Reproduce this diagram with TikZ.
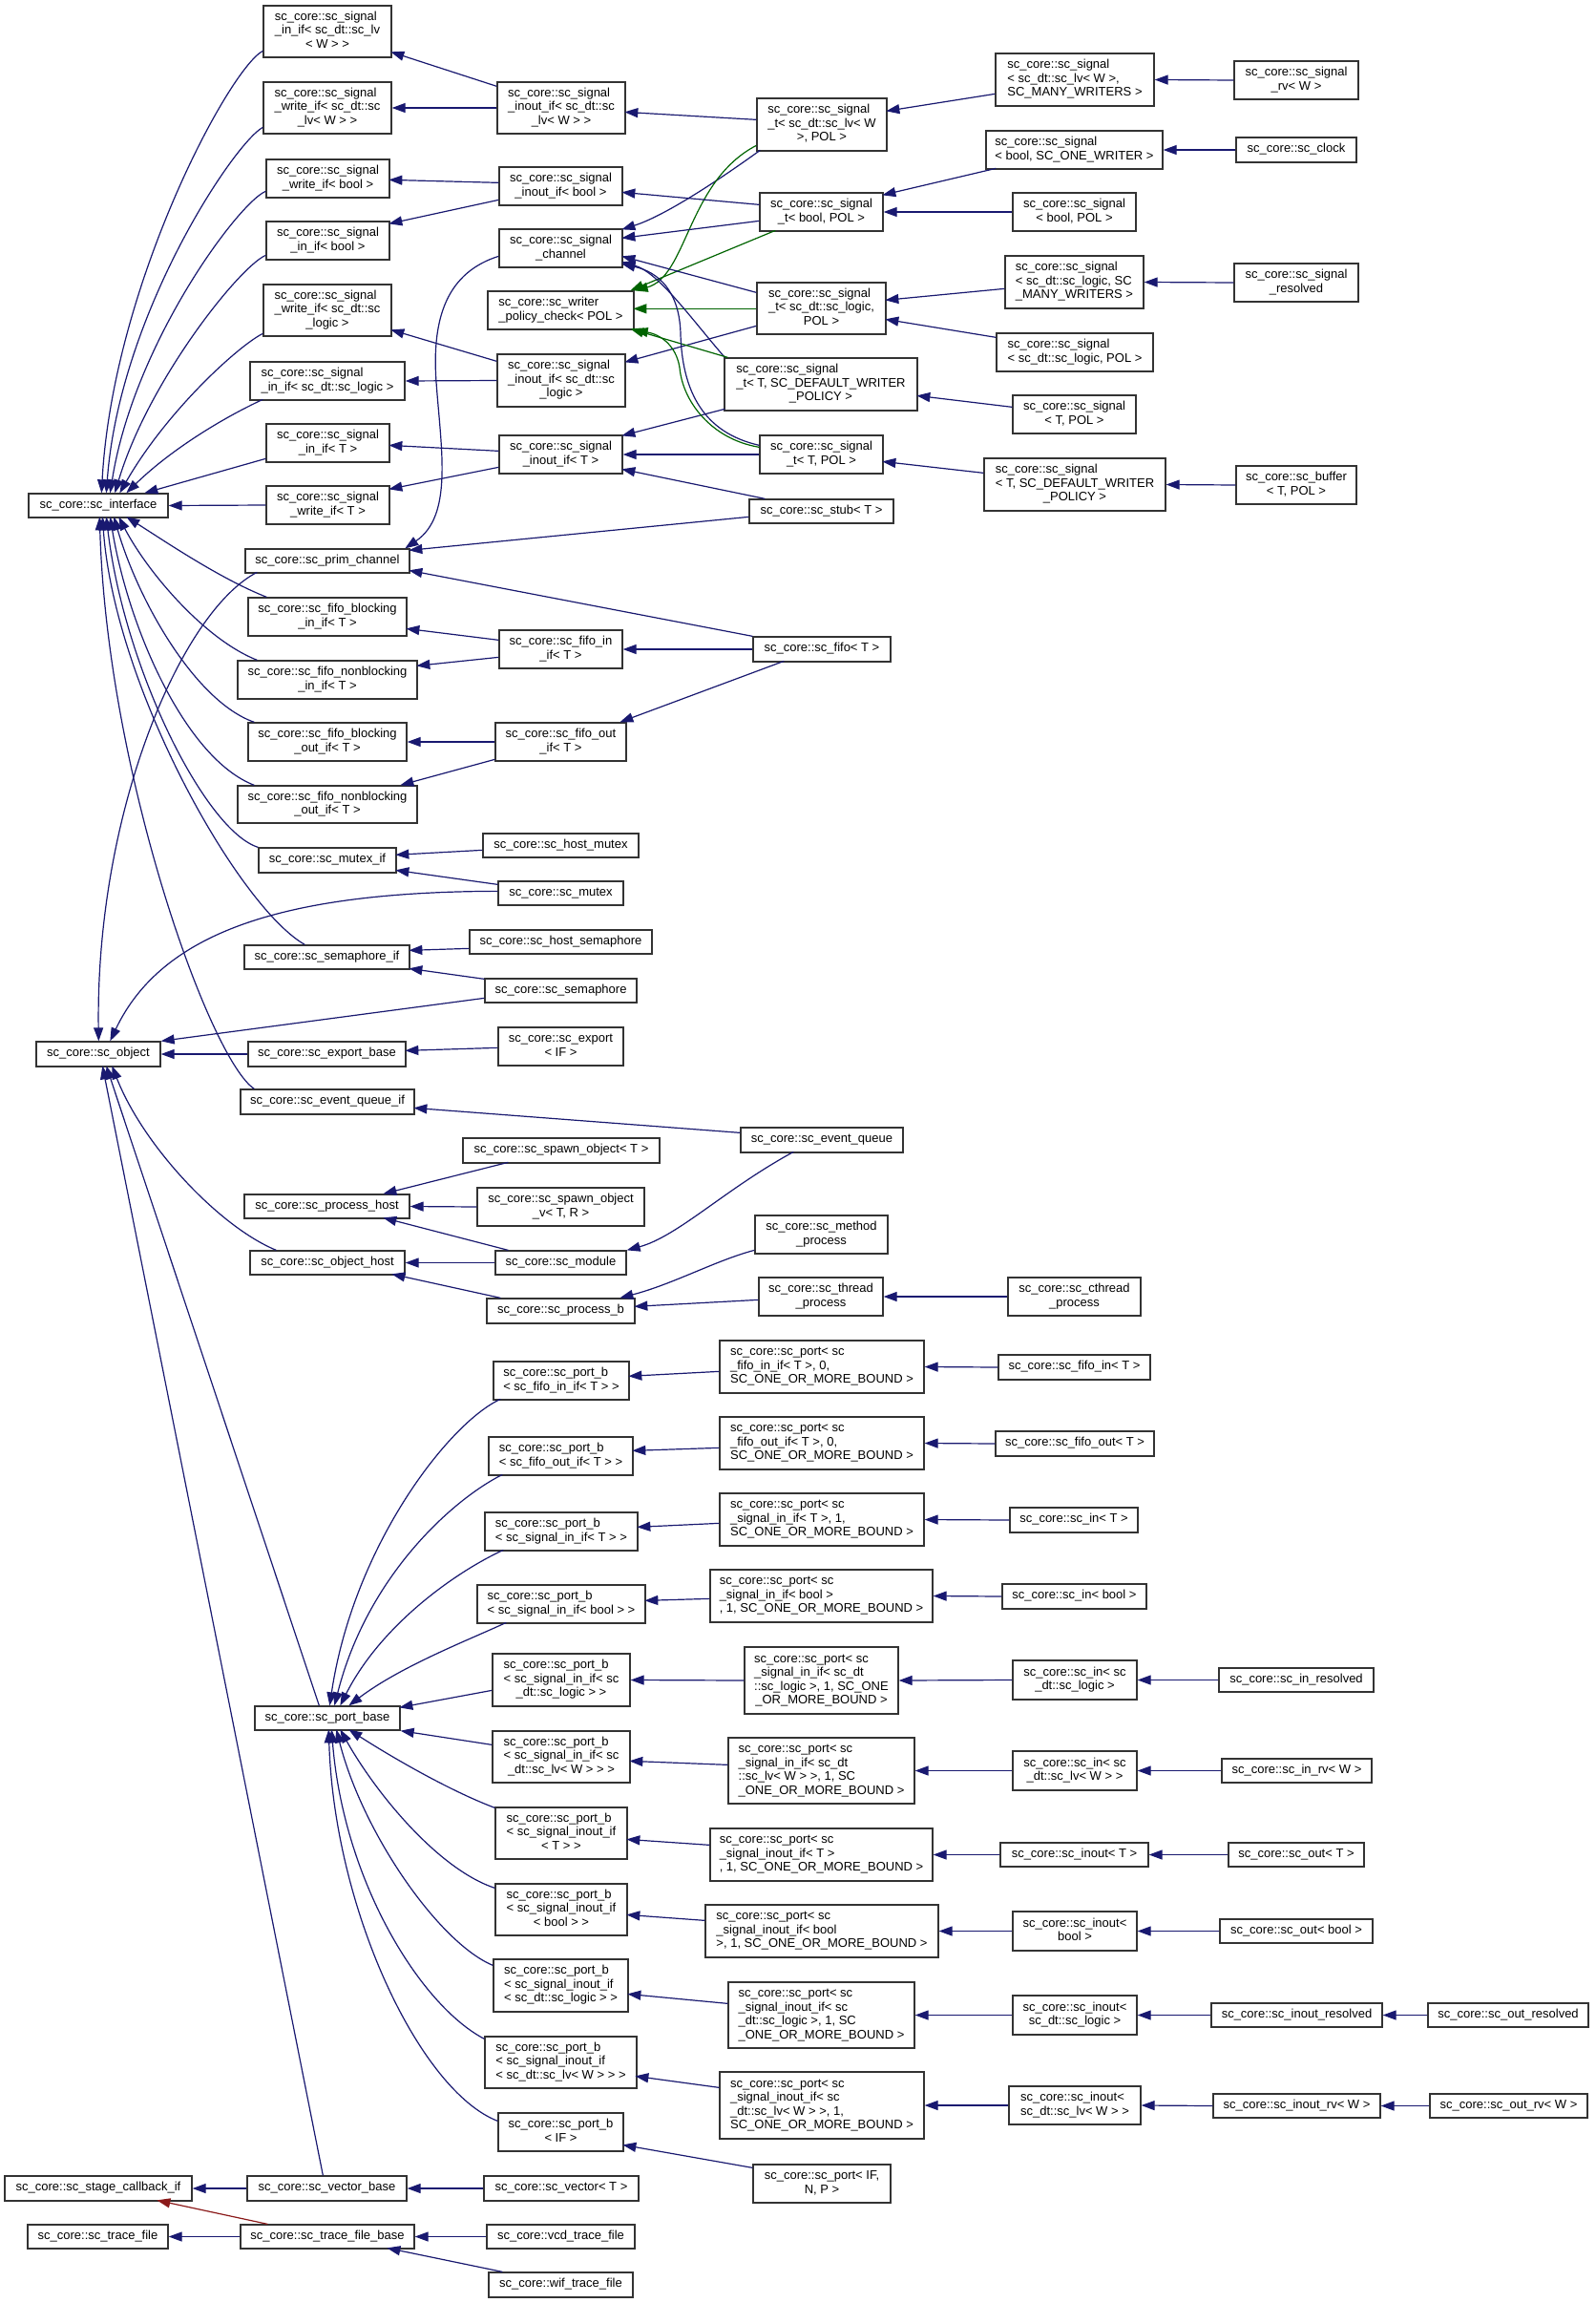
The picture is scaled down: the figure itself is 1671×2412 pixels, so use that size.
\documentclass[tikz,border=0pt]{standalone}
\usepackage{fontspec}
\setmainfont{Liberation Sans}
\usetikzlibrary{arrows.meta}
\definecolor{navy}{HTML}{191970}
\definecolor{dgreen}{HTML}{006400}
\definecolor{fbred}{HTML}{8B1A1A}
\newcommand\ml[2]{\begin{tabular}{@{}l@{}}#1\\\multicolumn{1}{@{}c@{}}{#2}\end{tabular}}
\newcommand\bx[6]{\node[cls,minimum width={#4pt-#2pt},minimum height={#5pt-#3pt}] (#1) at ({(#2+#4)/2},{(#3+#5)/2}) {#6};}
\newcommand\rp[3]{([shift={(#2,#3)}]#1.north west)}
\tikzset{
  cls/.style={draw=black!80,line width=1.3pt,fill=white,inner sep=0pt,
    font=\fontsize{13}{14.5}\selectfont,execute at begin node=\strut},
  edg/.style={draw=navy,line width=1.2pt,-{Triangle[length=14pt,width=10pt]}},
  edggr/.style={draw=dgreen,line width=1.2pt,-{Triangle[length=14pt,width=10pt]}},
  edgred/.style={draw=fbred,line width=1.2pt,-{Triangle[length=14pt,width=10pt]}}
}
\begin{document}
\catcode`\_=12
\begin{tikzpicture}[x=1pt,y=-1pt]
\fill[white] (0,0) rectangle (1671,2412);
\useasboundingbox (0,0) rectangle (1671,2412);
% column A
\bx{intf}{30}{517}{176}{542}{sc_core::sc_interface}
\bx{obj}{38}{1091}{168}{1117}{sc_core::sc_object}
\bx{stage}{5}{2279}{201}{2305}{sc_core::sc_stage_callback_if}
\bx{trace}{29}{2330}{176}{2355}{sc_core::sc_trace_file}
% column B
\bx{inlv}{276}{6}{410}{60}{\ml{sc_core::sc_signal\\_in_if< sc_dt::sc_lv}{< W > >}}
\bx{wrlv}{276}{86}{410}{140}{\ml{sc_core::sc_signal\\_write_if< sc_dt::sc}{_lv< W > >}}
\bx{wrbool}{279}{167}{408}{207}{\ml{sc_core::sc_signal}{_write_if< bool >}}
\bx{inbool}{279}{232}{408}{272}{\ml{sc_core::sc_signal}{_in_if< bool >}}
\bx{wrlogic}{276}{298}{410}{352}{\ml{sc_core::sc_signal\\_write_if< sc_dt::sc}{_logic >}}
\bx{inlogic}{262}{379}{424}{419}{\ml{sc_core::sc_signal}{_in_if< sc_dt::sc_logic >}}
\bx{inT}{279}{444}{408}{484}{\ml{sc_core::sc_signal}{_in_if< T >}}
\bx{wrT}{279}{509}{408}{549}{\ml{sc_core::sc_signal}{_write_if< T >}}
\bx{prim}{257}{575}{429}{600}{sc_core::sc_prim_channel}
\bx{fbin}{260}{626}{426}{666}{\ml{sc_core::sc_fifo_blocking}{_in_if< T >}}
\bx{fnbin}{249}{692}{437}{732}{\ml{sc_core::sc_fifo_nonblocking}{_in_if< T >}}
\bx{fbout}{260}{757}{426}{797}{\ml{sc_core::sc_fifo_blocking}{_out_if< T >}}
\bx{fnbout}{249}{823}{437}{862}{\ml{sc_core::sc_fifo_nonblocking}{_out_if< T >}}
\bx{mutexif}{271}{888}{415}{914}{sc_core::sc_mutex_if}
\bx{semif}{256}{990}{429}{1015}{sc_core::sc_semaphore_if}
\bx{exportb}{260}{1091}{425}{1117}{sc_core::sc_export_base}
\bx{evqif}{252}{1141}{434}{1167}{sc_core::sc_event_queue_if}
\bx{prochost}{256}{1251}{429}{1276}{sc_core::sc_process_host}
\bx{objhost}{262}{1310}{424}{1335}{sc_core::sc_object_host}
\bx{portbase}{267}{1787}{419}{1812}{sc_core::sc_port_base}
\bx{vecbase}{259}{2279}{426}{2305}{sc_core::sc_vector_base}
\bx{tfbase}{252}{2330}{434}{2355}{sc_core::sc_trace_file_base}
% column C
\bx{inoutlv}{521}{86}{655}{140}{\ml{sc_core::sc_signal\\_inout_if< sc_dt::sc}{_lv< W > >}}
\bx{inoutbool}{523}{175}{652}{215}{\ml{sc_core::sc_signal}{_inout_if< bool >}}
\bx{chan}{523}{240}{652}{280}{\ml{sc_core::sc_signal}{_channel}}
\bx{wpc}{511}{305}{664}{345}{\ml{sc_core::sc_writer}{_policy_check< POL >}}
\bx{inoutlogic}{521}{371}{655}{426}{\ml{sc_core::sc_signal\\_inout_if< sc_dt::sc}{_logic >}}
\bx{inoutT}{523}{456}{652}{496}{\ml{sc_core::sc_signal}{_inout_if< T >}}
\bx{fifoinif}{523}{660}{652}{700}{\ml{sc_core::sc_fifo_in}{_if< T >}}
\bx{fifooutif}{519}{757}{656}{797}{\ml{sc_core::sc_fifo_out}{_if< T >}}
\bx{hostmutex}{506}{873}{669}{898}{sc_core::sc_host_mutex}
\bx{mutex}{522}{923}{653}{948}{sc_core::sc_mutex}
\bx{hostsem}{492}{974}{683}{999}{sc_core::sc_host_semaphore}
\bx{sem}{508}{1025}{667}{1050}{sc_core::sc_semaphore}
\bx{export}{522}{1076}{653}{1116}{\ml{sc_core::sc_export}{< IF >}}
\bx{spawn}{485}{1192}{691}{1218}{sc_core::sc_spawn_object< T >}
\bx{spawnv}{500}{1244}{675}{1284}{\ml{sc_core::sc_spawn_object}{_v< T, R >}}
\bx{module}{519}{1310}{656}{1335}{sc_core::sc_module}
\bx{procb}{510}{1360}{665}{1386}{sc_core::sc_process_b}
\bx{pbfin}{517}{1426}{659}{1466}{\ml{sc_core::sc_port_b}{< sc_fifo_in_if< T > >}}
\bx{pbfout}{512}{1505}{663}{1545}{\ml{sc_core::sc_port_b}{< sc_fifo_out_if< T > >}}
\bx{pbsinT}{508}{1584}{668}{1624}{\ml{sc_core::sc_port_b}{< sc_signal_in_if< T > >}}
\bx{pbsinbool}{500}{1660}{676}{1700}{\ml{sc_core::sc_port_b}{< sc_signal_in_if< bool > >}}
\bx{pbsinlogic}{516}{1732}{660}{1787}{\ml{sc_core::sc_port_b\\< sc_signal_in_if< sc}{_dt::sc_logic > >}}
\bx{pbsinlv}{516}{1813}{660}{1867}{\ml{sc_core::sc_port_b\\< sc_signal_in_if< sc}{_dt::sc_lv< W > > >}}
\bx{pbinoutT}{519}{1893}{657}{1947}{\ml{sc_core::sc_port_b\\< sc_signal_inout_if}{< T > >}}
\bx{pbinoutbool}{519}{1973}{657}{2027}{\ml{sc_core::sc_port_b\\< sc_signal_inout_if}{< bool > >}}
\bx{pbinoutlogic}{517}{2052}{658}{2107}{\ml{sc_core::sc_port_b\\< sc_signal_inout_if}{< sc_dt::sc_logic > >}}
\bx{pbinoutlv}{508}{2133}{667}{2187}{\ml{sc_core::sc_port_b\\< sc_signal_inout_if}{< sc_dt::sc_lv< W > > >}}
\bx{pbIF}{522}{2213}{653}{2253}{\ml{sc_core::sc_port_b}{< IF >}}
\bx{vector}{507}{2279}{669}{2305}{sc_core::sc_vector< T >}
\bx{vcd}{510}{2330}{665}{2355}{sc_core::vcd_trace_file}
\bx{wif}{512}{2380}{663}{2406}{sc_core::wif_trace_file}
% column D
\bx{stlv}{793}{103}{929}{158}{\ml{sc_core::sc_signal\\_t< sc_dt::sc_lv< W}{>, POL >}}
\bx{stbool}{796}{202}{925}{242}{\ml{sc_core::sc_signal}{_t< bool, POL >}}
\bx{stlogic}{793}{296}{928}{350}{\ml{sc_core::sc_signal\\_t< sc_dt::sc_logic,}{POL >}}
\bx{stTdef}{759}{375}{961}{430}{\ml{sc_core::sc_signal\\_t< T, SC_DEFAULT_WRITER}{_POLICY >}}
\bx{stTpol}{796}{456}{925}{496}{\ml{sc_core::sc_signal}{_t< T, POL >}}
\bx{stub}{785}{523}{936}{548}{sc_core::sc_stub< T >}
\bx{fifo}{789}{667}{933}{693}{sc_core::sc_fifo< T >}
\bx{evq}{776}{1181}{946}{1207}{sc_core::sc_event_queue}
\bx{method}{791}{1273}{930}{1313}{\ml{sc_core::sc_method}{_process}}
\bx{thread}{795}{1338}{925}{1378}{\ml{sc_core::sc_thread}{_process}}
\bx{pfin}{754}{1404}{968}{1459}{\ml{sc_core::sc_port< sc\\_fifo_in_if< T >, 0,}{SC_ONE_OR_MORE_BOUND >}}
\bx{pfout}{754}{1484}{968}{1539}{\ml{sc_core::sc_port< sc\\_fifo_out_if< T >, 0,}{SC_ONE_OR_MORE_BOUND >}}
\bx{psinT}{754}{1564}{968}{1619}{\ml{sc_core::sc_port< sc\\_signal_in_if< T >, 1,}{SC_ONE_OR_MORE_BOUND >}}
\bx{psinbool}{744}{1644}{977}{1699}{\ml{sc_core::sc_port< sc\\_signal_in_if< bool >}{, 1, SC_ONE_OR_MORE_BOUND >}}
\bx{psinlogic}{780}{1725}{941}{1795}{\ml{sc_core::sc_port< sc\\_signal_in_if< sc_dt\\::sc_logic >, 1, SC_ONE}{_OR_MORE_BOUND >}}
\bx{psinlv}{763}{1820}{958}{1889}{\ml{sc_core::sc_port< sc\\_signal_in_if< sc_dt\\::sc_lv< W > >, 1, SC}{_ONE_OR_MORE_BOUND >}}
\bx{pinoutT}{744}{1915}{977}{1970}{\ml{sc_core::sc_port< sc\\_signal_inout_if< T >}{, 1, SC_ONE_OR_MORE_BOUND >}}
\bx{pinoutbool}{739}{1995}{983}{2050}{\ml{sc_core::sc_port< sc\\_signal_inout_if< bool}{>, 1, SC_ONE_OR_MORE_BOUND >}}
\bx{pinoutlogic}{763}{2076}{958}{2145}{\ml{sc_core::sc_port< sc\\_signal_inout_if< sc\\_dt::sc_logic >, 1, SC}{_ONE_OR_MORE_BOUND >}}
\bx{pinoutlv}{754}{2170}{968}{2240}{\ml{sc_core::sc_port< sc\\_signal_inout_if< sc\\_dt::sc_lv< W > >, 1,}{SC_ONE_OR_MORE_BOUND >}}
\bx{pIF}{789}{2267}{933}{2307}{\ml{sc_core::sc_port< IF,}{N, P >}}
% column E
\bx{slvmany}{1043}{56}{1209}{111}{\ml{sc_core::sc_signal\\< sc_dt::sc_lv< W >,}{SC_MANY_WRITERS >}}
\bx{sboolone}{1033}{137}{1218}{177}{\ml{sc_core::sc_signal}{< bool, SC_ONE_WRITER >}}
\bx{sboolpol}{1061}{202}{1190}{242}{\ml{sc_core::sc_signal}{< bool, POL >}}
\bx{slogicmany}{1053}{268}{1198}{323}{\ml{sc_core::sc_signal\\< sc_dt::sc_logic, SC}{_MANY_WRITERS >}}
\bx{slogicpol}{1044}{349}{1208}{389}{\ml{sc_core::sc_signal}{< sc_dt::sc_logic, POL >}}
\bx{sTpol}{1061}{414}{1190}{454}{\ml{sc_core::sc_signal}{< T, POL >}}
\bx{sTdef}{1031}{480}{1221}{535}{\ml{sc_core::sc_signal\\< T, SC_DEFAULT_WRITER}{_POLICY >}}
\bx{cthread}{1056}{1338}{1195}{1378}{\ml{sc_core::sc_cthread}{_process}}
\bx{fifoin}{1046}{1419}{1205}{1445}{sc_core::sc_fifo_in< T >}
\bx{fifoout}{1043}{1499}{1209}{1525}{sc_core::sc_fifo_out< T >}
\bx{scinT}{1058}{1579}{1192}{1605}{sc_core::sc_in< T >}
\bx{scinbool}{1050}{1659}{1201}{1685}{sc_core::sc_in< bool >}
\bx{scinlogic}{1061}{1739}{1191}{1780}{\ml{sc_core::sc_in< sc}{_dt::sc_logic >}}
\bx{scinlv}{1061}{1834}{1191}{1875}{\ml{sc_core::sc_in< sc}{_dt::sc_lv< W > >}}
\bx{scinoutT}{1048}{1930}{1203}{1955}{sc_core::sc_inout< T >}
\bx{scinoutbool}{1061}{2002}{1191}{2043}{\ml{sc_core::sc_inout<}{bool >}}
\bx{scinoutlogic}{1061}{2090}{1191}{2131}{\ml{sc_core::sc_inout<}{sc_dt::sc_logic >}}
\bx{scinoutlv}{1057}{2185}{1195}{2225}{\ml{sc_core::sc_inout<}{sc_dt::sc_lv< W > >}}
% column F/G
\bx{srv}{1293}{64}{1423}{104}{\ml{sc_core::sc_signal}{_rv< W >}}
\bx{clock}{1295}{144}{1421}{170}{sc_core::sc_clock}
\bx{sresolved}{1293}{276}{1423}{316}{\ml{sc_core::sc_signal}{_resolved}}
\bx{buffer}{1295}{488}{1421}{528}{\ml{sc_core::sc_buffer}{< T, POL >}}
\bx{inresolved}{1277}{1747}{1439}{1772}{sc_core::sc_in_resolved}
\bx{inrv}{1280}{1842}{1437}{1867}{sc_core::sc_in_rv< W >}
\bx{outT}{1287}{1930}{1429}{1955}{sc_core::sc_out< T >}
\bx{outbool}{1278}{2010}{1438}{2035}{sc_core::sc_out< bool >}
\bx{inoutresolved}{1269}{2098}{1448}{2123}{sc_core::sc_inout_resolved}
\bx{inoutrv}{1271}{2193}{1446}{2218}{sc_core::sc_inout_rv< W >}
\bx{outresolved}{1496}{2098}{1664}{2123}{sc_core::sc_out_resolved}
\bx{outrv}{1498}{2193}{1663}{2218}{sc_core::sc_out_rv< W >}
% ---- edges into sc_interface
\draw[edg] \rp{inlv}{0}{48} .. controls (240,72) and (118,300) .. \rp{intf}{77}{0};
\draw[edg] \rp{wrlv}{0}{48} .. controls (245,150) and (125,330) .. \rp{intf}{82}{0};
\draw[edg] \rp{wrbool}{0}{34} .. controls (250,212) and (140,360) .. \rp{intf}{86}{0};
\draw[edg] \rp{inbool}{0}{36} .. controls (250,280) and (155,400) .. \rp{intf}{91}{0};
\draw[edg] \rp{wrlogic}{0}{52} .. controls (250,362) and (175,430) .. \rp{intf}{96}{0};
\draw[edg] \rp{inlogic}{14}{40} .. controls (235,437) and (180,470) .. \rp{intf}{103}{0};
\draw[edg] \rp{inT}{0}{37} -- \rp{intf}{122}{0};
\draw[edg] (wrT.west) -- (intf.east);
\draw[edg] \rp{fbin}{20}{0} .. controls (230,606) and (170,565) .. \rp{intf}{103}{25};
\draw[edg] \rp{fnbin}{21}{0} .. controls (215,670) and (155,600) .. \rp{intf}{95}{25};
\draw[edg] \rp{fbout}{7}{0} .. controls (205,735) and (145,630) .. \rp{intf}{90}{25};
\draw[edg] \rp{fnbout}{18}{0} .. controls (195,795) and (135,660) .. \rp{intf}{86}{25};
\draw[edg] \rp{mutexif}{0}{0} .. controls (215,870) and (130,700) .. \rp{intf}{82}{25};
\draw[edg] \rp{semif}{64}{0} .. controls (250,950) and (120,720) .. \rp{intf}{78}{25};
\draw[edg] \rp{evqif}{15}{0} .. controls (220,1110) and (112,810) .. \rp{intf}{75}{25};
% ---- edges into sc_object
\draw[edg] \rp{prim}{13}{25} .. controls (190,640) and (100,850) .. \rp{obj}{66}{0};
\draw[edg] \rp{mutex}{0}{11} .. controls (300,934) and (170,975) .. \rp{obj}{78}{0};
\draw[edg] \rp{sem}{0}{21} -- (obj.north east);
\draw[edg] (exportb.west) -- (obj.east);
\draw[edg] \rp{objhost}{28}{0} .. controls (230,1285) and (150,1200) .. \rp{obj}{80}{26};
\draw[edg] \rp{portbase}{68}{0} -- \rp{obj}{74}{26};
\draw[edg] \rp{vecbase}{80}{0} -- \rp{obj}{70}{26};
% ---- column C to B
\draw[edg] \rp{inoutlv}{0}{5} -- \rp{inlv}{134}{49};
\draw[edg] (inoutlv.west) -- (wrlv.east);
\draw[edg] \rp{inoutbool}{0}{17} -- \rp{wrbool}{129}{22};
\draw[edg] \rp{inoutbool}{0}{35} -- \rp{inbool}{129}{3};
\draw[edg] \rp{inoutlogic}{0}{8} -- \rp{wrlogic}{134}{48};
\draw[edg] (inoutlogic.west) -- (inlogic.east);
\draw[edg] \rp{inoutT}{0}{17} -- \rp{inT}{129}{23};
\draw[edg] \rp{inoutT}{0}{34} -- \rp{wrT}{129}{4};
\draw[edg] \rp{chan}{0}{29} .. controls (470,285) and (452,330) .. (457,400) .. controls (462,470) and (475,540) .. \rp{prim}{168}{0};
\draw[edg] \rp{stub}{0}{19} -- \rp{prim}{172}{2};
\draw[edg] (fifo.north west) -- \rp{prim}{172}{23};
\draw[edg] (fifo.west) -- (fifoinif.east);
\draw[edg] \rp{fifo}{33}{26} -- \rp{fifooutif}{131}{0};
\draw[edg] \rp{fifoinif}{0}{11} -- \rp{fbin}{166}{33};
\draw[edg] \rp{fifoinif}{0}{29} -- \rp{fnbin}{188}{6};
\draw[edg] (fifooutif.west) -- (fbout.east);
\draw[edg] \rp{fifooutif}{0}{39} -- \rp{fnbout}{171}{0};
\draw[edg] \rp{hostmutex}{0}{18} -- \rp{mutexif}{144}{8};
\draw[edg] \rp{mutex}{0}{4} -- \rp{mutexif}{144}{24};
\draw[edg] \rp{hostsem}{0}{20} -- \rp{semif}{173}{6};
\draw[edg] \rp{sem}{0}{1} -- \rp{semif}{173}{25};
\draw[edg] \rp{export}{0}{22} -- \rp{exportb}{165}{10};
\draw[edg] \rp{evq}{0}{6} -- \rp{evqif}{182}{20};
\draw[edg] \rp{evq}{56}{26} .. controls (760,1245) and (710,1295) .. (module.north east);
\draw[edg] \rp{spawn}{48}{26} -- \rp{prochost}{146}{0};
\draw[edg] (spawnv.west) -- (prochost.east);
\draw[edg] \rp{module}{14}{0} -- \rp{prochost}{146}{25};
\draw[edg] (module.west) -- (objhost.east);
\draw[edg] \rp{procb}{15}{0} -- \rp{objhost}{149}{25};
\draw[edg] \rp{method}{0}{37} .. controls (750,1320) and (705,1345) .. \rp{procb}{140}{0};
\draw[edg] \rp{thread}{0}{24} -- \rp{procb}{155}{9};
\draw[edg] (cthread.west) -- (thread.east);
% ---- port_b into port_base
\draw[edg] \rp{pbfin}{8}{40} .. controls (470,1490) and (370,1620) .. \rp{portbase}{79}{0};
\draw[edg] \rp{pbfout}{15}{40} .. controls (475,1570) and (385,1650) .. \rp{portbase}{84}{0};
\draw[edg] \rp{pbsinT}{20}{40} .. controls (480,1645) and (400,1700) .. \rp{portbase}{90}{0};
\draw[edg] \rp{pbsinbool}{31}{40} .. controls (490,1718) and (420,1745) .. \rp{portbase}{99}{0};
\draw[edg] \rp{pbsinlogic}{0}{39} -- \rp{portbase}{152}{2};
\draw[edg] \rp{pbsinlv}{0}{15} -- (portbase.south east);
\draw[edg] \rp{pbinoutT}{0}{1} .. controls (470,1875) and (410,1840) .. \rp{portbase}{99}{25};
\draw[edg] \rp{pbinoutbool}{0}{5} .. controls (460,1958) and (395,1880) .. \rp{portbase}{90}{25};
\draw[edg] \rp{pbinoutlogic}{0}{7} .. controls (460,2035) and (380,1920) .. \rp{portbase}{86}{25};
\draw[edg] \rp{pbinoutlv}{0}{3} .. controls (440,2100) and (360,1970) .. \rp{portbase}{81}{25};
\draw[edg] \rp{pbIF}{0}{9} .. controls (440,2190) and (350,2000) .. \rp{portbase}{78}{25};
% ---- ports
\draw[edg] \rp{pfin}{0}{33} -- \rp{pbfin}{142}{16};
\draw[edg] (fifoin.west) -- (pfin.east);
\draw[edg] \rp{pfout}{0}{33} -- \rp{pbfout}{151}{15};
\draw[edg] (fifoout.west) -- (pfout.east);
\draw[edg] \rp{psinT}{0}{32} -- \rp{pbsinT}{160}{16};
\draw[edg] (scinT.west) -- (psinT.east);
\draw[edg] \rp{psinbool}{0}{31} -- \rp{pbsinbool}{176}{17};
\draw[edg] (scinbool.west) -- (psinbool.east);
\draw[edg] (psinlogic.west) -- (pbsinlogic.east);
\draw[edg] (scinlogic.west) -- (psinlogic.east);
\draw[edg] (inresolved.west) -- (scinlogic.east);
\draw[edg] \rp{psinlv}{0}{29} -- \rp{pbsinlv}{144}{32};
\draw[edg] (scinlv.west) -- (psinlv.east);
\draw[edg] (inrv.west) -- (scinlv.east);
\draw[edg] \rp{pinoutT}{0}{18} -- \rp{pbinoutT}{138}{34};
\draw[edg] (scinoutT.west) -- (pinoutT.east);
\draw[edg] (outT.west) -- (scinoutT.east);
\draw[edg] \rp{pinoutbool}{0}{17} -- \rp{pbinoutbool}{138}{33};
\draw[edg] (scinoutbool.west) -- (pinoutbool.east);
\draw[edg] (outbool.west) -- (scinoutbool.east);
\draw[edg] \rp{pinoutlogic}{0}{23} -- \rp{pbinoutlogic}{141}{37};
\draw[edg] (scinoutlogic.west) -- (pinoutlogic.east);
\draw[edg] (inoutresolved.west) -- (scinoutlogic.east);
\draw[edg] (outresolved.west) -- (inoutresolved.east);
\draw[edg] \rp{pinoutlv}{0}{17} -- \rp{pbinoutlv}{158}{42};
\draw[edg] (scinoutlv.west) -- (pinoutlv.east);
\draw[edg] (inoutrv.west) -- (scinoutlv.east);
\draw[edg] (outrv.west) -- (inoutrv.east);
\draw[edg] \rp{pIF}{0}{4} -- \rp{pbIF}{131}{34};
% ---- bottom
\draw[edg] (vecbase.west) -- (stage.east);
\draw[edg] (vector.west) -- (vecbase.east);
\draw[edgred] \rp{tfbase}{29}{0} -- \rp{stage}{160}{26};
\draw[edg] (tfbase.west) -- (trace.east);
\draw[edg] (vcd.west) -- (tfbase.east);
\draw[edg] \rp{wif}{15}{0} -- \rp{tfbase}{154}{25};
% ---- signals top right
\draw[edg] \rp{stlv}{0}{23} -- \rp{inoutlv}{134}{32};
\draw[edg] \rp{stlv}{4}{55} .. controls (765,180) and (700,225) .. \rp{chan}{129}{1};
\draw[edggr] \rp{stlv}{0}{50} .. controls (720,190) and (720,290) .. (wpc.north east);
\draw[edg] \rp{slvmany}{0}{43} -- \rp{stlv}{136}{14};
\draw[edg] (srv.west) -- (slvmany.east);
\draw[edg] \rp{sboolone}{11}{40} -- \rp{stbool}{129}{3};
\draw[edg] (clock.west) -- (sboolone.east);
\draw[edg] (sboolpol.west) -- (stbool.east);
\draw[edg] \rp{stbool}{0}{13} -- \rp{inoutbool}{129}{27};
\draw[edg] \rp{stbool}{0}{30} -- \rp{chan}{129}{10};
\draw[edggr] \rp{stbool}{17}{40} -- \rp{wpc}{150}{0};
\draw[edg] \rp{slogicmany}{0}{35} -- \rp{stlogic}{135}{19};
\draw[edg] (sresolved.west) -- (slogicmany.east);
\draw[edg] \rp{slogicpol}{0}{5} -- \rp{stlogic}{135}{39};
\draw[edg] \rp{stlogic}{0}{11} -- \rp{chan}{129}{29};
\draw[edggr] \rp{stlogic}{0}{28} -- \rp{wpc}{153}{19};
\draw[edg] \rp{stlogic}{0}{46} -- \rp{inoutlogic}{134}{9};
\draw[edg] \rp{stTdef}{1}{0} .. controls (725,335) and (690,285) .. \rp{chan}{129}{35};
\draw[edggr] \rp{stTdef}{4}{0} -- \rp{wpc}{150}{40};
\draw[edg] \rp{stTdef}{1}{54} -- \rp{inoutT}{129}{1};
\draw[edg] \rp{sTpol}{0}{13} -- \rp{stTdef}{202}{40};
\draw[edg] (stTpol.west) -- (inoutT.east);
\draw[edg] \rp{stTpol}{0}{11} .. controls (745,455) and (715,420) .. (713,350) .. controls (712,305) and (690,285) .. \rp{chan}{129}{37};
\draw[edggr] \rp{stTpol}{0}{13} .. controls (745,460) and (715,420) .. (712,385) .. controls (708,360) and (690,350) .. (wpc.south east);
\draw[edg] \rp{sTdef}{0}{16} -- \rp{stTpol}{129}{28};
\draw[edg] (buffer.west) -- (sTdef.east);
\draw[edg] \rp{stub}{17}{0} -- \rp{inoutT}{129}{36};
\end{tikzpicture}
\end{document}
